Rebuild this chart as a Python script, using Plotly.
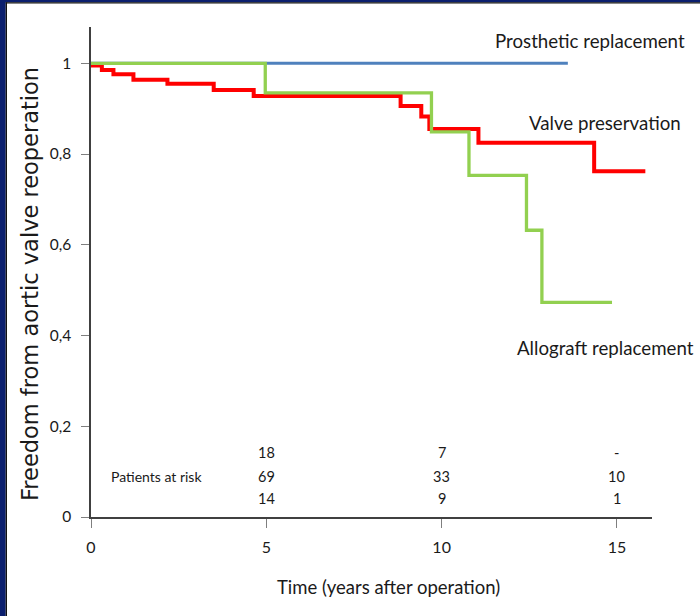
import plotly.graph_objects as go

# Kaplan-Meier style freedom from aortic valve reoperation
prosthetic_t = [0, 13.6]
prosthetic_s = [1.0, 1.0]

preservation_t = [0, 0.31, 0.64, 1.21, 2.18, 3.5, 4.64, 8.83, 9.42, 9.65, 11.05, 14.35, 15.81]
preservation_s = [0.995, 0.985, 0.976, 0.964, 0.955, 0.941, 0.928, 0.906, 0.883, 0.855, 0.825, 0.762, 0.762]

allograft_t = [0, 4.97, 9.71, 10.78, 12.42, 12.86, 14.86]
allograft_s = [1.0, 0.935, 0.849, 0.753, 0.632, 0.473, 0.473]

# patients at risk table
risk_times = [5, 10, 15]
risk_prosthetic = ["18", "7", "-"]
risk_preservation = ["69", "33", "10"]
risk_allograft = ["14", "9", "1"]

y_ticks = [0, 0.2, 0.4, 0.6, 0.8, 1]
y_tick_text = ["0", "0,2", "0,4", "0,6", "0,8", "1"]
x_ticks = [0, 5, 10, 15]

FONT = "Lato, sans-serif"
TEXT = "#1a1a1a"

fig = go.Figure()
fig.add_trace(go.Scatter(x=prosthetic_t, y=prosthetic_s, mode="lines",
                         line=dict(color="#4F81BD", width=3, shape="hv"), hoverinfo="skip"))
fig.add_trace(go.Scatter(x=preservation_t, y=preservation_s, mode="lines",
                         line=dict(color="#FF0000", width=4, shape="hv"), hoverinfo="skip"))
fig.add_trace(go.Scatter(x=allograft_t, y=allograft_s, mode="lines",
                         line=dict(color="#92D050", width=3.3, shape="hv"), hoverinfo="skip"))

PW, PH, L, B = 561.0, 490.0, 91.0, 99.0
def px_x(p):
    return (p - L) / PW
def px_y(p):
    return (616 - B - p) / PH

annotations = [
    dict(x=11.47, y=1.05, text="Prosthetic replacement", xanchor="left", yanchor="middle"),
    dict(x=12.43, y=0.868, text="Valve preservation", xanchor="left", yanchor="middle"),
    dict(x=12.09, y=0.372, text="Allograft replacement", xanchor="left", yanchor="middle"),
]
for a in annotations:
    a.update(xref="x", yref="y", showarrow=False, font=dict(family=FONT, size=18.7, color=TEXT))

row_y = [0.143, 0.090, 0.040]
for rows, yy in zip([risk_prosthetic, risk_preservation, risk_allograft], row_y):
    for t, label in zip(risk_times, rows):
        annotations.append(dict(x=t, y=yy, text=label, xref="x", yref="y", showarrow=False,
                                xanchor="center", yanchor="middle",
                                font=dict(family=FONT, size=14.5, color=TEXT)))
annotations.append(dict(x=1.86, y=0.090, text="Patients at risk", xref="x", yref="y",
                        showarrow=False, xanchor="center", yanchor="middle",
                        font=dict(family=FONT, size=14, color=TEXT)))

# axis titles
annotations.append(dict(x=px_x(388), y=px_y(587), xref="paper", yref="paper",
                        text="Time (years after operation)", showarrow=False,
                        xanchor="center", yanchor="middle",
                        font=dict(family=FONT, size=18.5, color=TEXT)))
annotations.append(dict(x=px_x(30), y=px_y(284), xref="paper", yref="paper",
                        text="Freedom from aortic valve reoperation", showarrow=False,
                        textangle=-90, xanchor="center", yanchor="middle",
                        font=dict(family="DejaVu Sans, Verdana, sans-serif", size=22.5, color=TEXT)))

NAVY = "#0B1F6E"
shapes = [
    dict(type="rect", xref="paper", yref="paper", x0=px_x(-5), x1=px_x(5.7),
         y0=px_y(620), y1=px_y(-5), fillcolor=NAVY, line=dict(width=0), layer="above"),
    dict(type="rect", xref="paper", yref="paper", x0=px_x(5.7), x1=px_x(7),
         y0=px_y(620), y1=px_y(2.3), fillcolor="#111111", line=dict(width=0), layer="above"),
    dict(type="rect", xref="paper", yref="paper", x0=px_x(-5), x1=px_x(705),
         y0=px_y(2.3), y1=px_y(-5), fillcolor=NAVY, line=dict(width=0), layer="above"),
    dict(type="rect", xref="paper", yref="paper", x0=px_x(5.7), x1=px_x(705),
         y0=px_y(3.6), y1=px_y(2.3), fillcolor="#111111", line=dict(width=0), layer="above"),
]

fig.update_layout(
    width=700, height=616,
    margin=dict(l=91, r=48, t=27, b=99),
    paper_bgcolor="white", plot_bgcolor="white",
    showlegend=False,
    annotations=annotations,
    shapes=shapes,
    xaxis=dict(range=[0, 16], tickvals=x_ticks, ticks="outside", ticklen=9, tickcolor="#7f7f7f",
               showline=True, linecolor="#404040", linewidth=1.5, showgrid=False, zeroline=False,
               ticklabelstandoff=6, tickfont=dict(family=FONT, size=16, color=TEXT)),
    yaxis=dict(range=[0, 1.08], tickvals=y_ticks, ticktext=y_tick_text, ticks="outside",
               ticklen=8, tickcolor="#7f7f7f", showline=True, linecolor="#404040", linewidth=1.5,
               showgrid=False, zeroline=False, ticklabelstandoff=7,
               tickfont=dict(family=FONT, size=15.5, color=TEXT)),
)

fig.write_html("out.html")
